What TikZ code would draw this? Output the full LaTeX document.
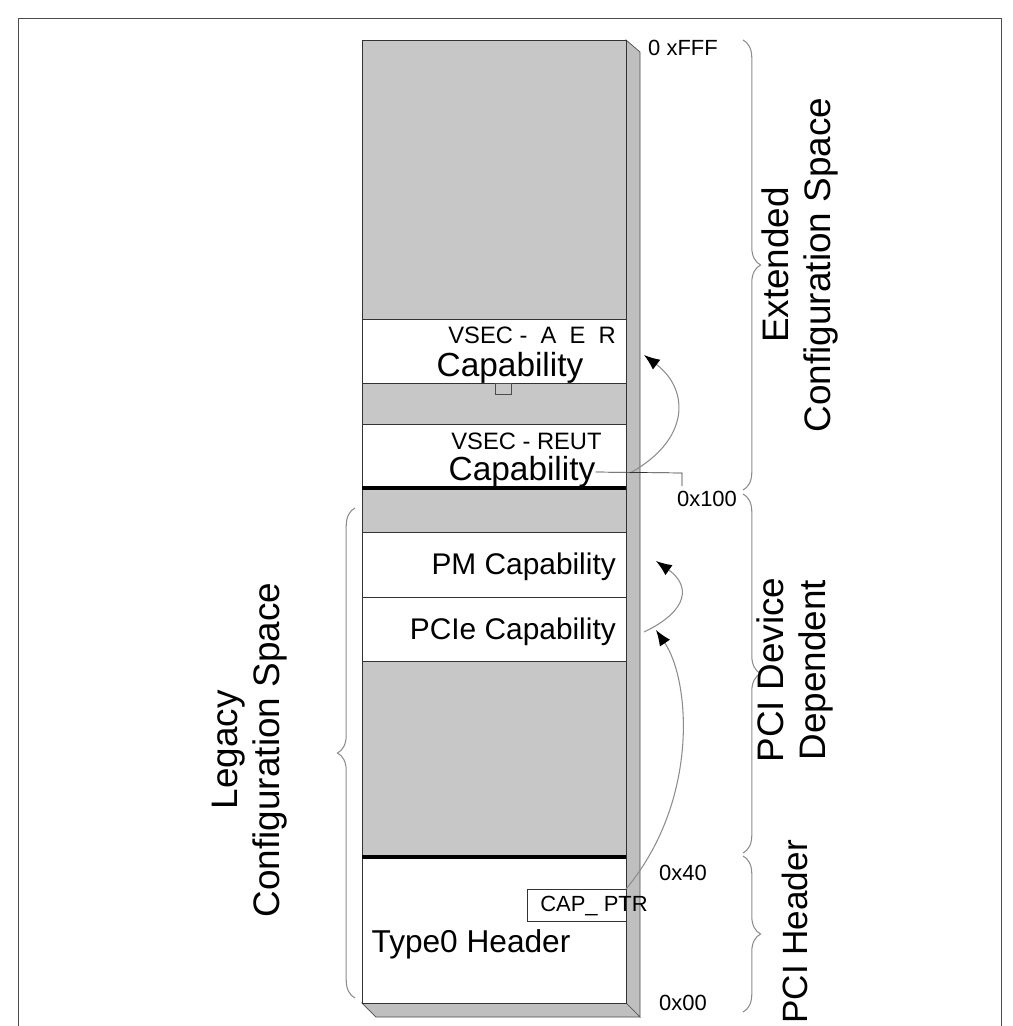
\documentclass[tikz,border=0pt]{standalone}
\usepackage{fontspec}
\setmainfont{Liberation Sans}
\usetikzlibrary{decorations.pathreplacing,arrows.meta}
\tikzset{
  region/.style={draw=black!80, fill=white, line width=0.5pt},
  brace/.style={draw=black!45, line width=0.6pt, decorate, decoration={brace, amplitude=10pt}},
  ptr/.style={draw=black!45, line width=0.6pt, -{Latex[length=9pt,width=7pt,black]}},
  addr/.style={font=\fontsize{12.5}{14}\selectfont, inner sep=1pt},
  side/.style={font=\fontsize{21}{24}\selectfont, align=center, rotate=90}
}
\begin{document}
\begin{tikzpicture}[x=0.02cm, y=-0.02cm]
\useasboundingbox (0,0) rectangle (1012,1026);
\draw[black!70] (18,18) rectangle (1001,1030);

% column with its depth
\fill[black!25, draw=black!70] (626,40) -- (640,52) -- (640,1017) -- (626,1003) -- cycle;
\fill[black!25, draw=black!70] (362,1003) -- (376,1017) -- (640,1017) -- (626,1003) -- cycle;
\fill[black!22, draw=black!80] (362,40) rectangle (626,1003);

% regions
\node[region, minimum width=264*0.02cm, minimum height=64*0.02cm, anchor=north west] (aer) at (362,319) {};
\node[font=\fontsize{13.5}{15}\selectfont, inner sep=0pt] at (448,335) [anchor=west] {VSEC -\ \ A\ \ E\ \ R};
\node[font=\fontsize{19}{22}\selectfont, inner sep=0pt] (aercap) at (510,368) {Capability};
\draw[black!70] (495,383) rectangle (511,394);
\node[region, minimum width=264*0.02cm, minimum height=64*0.02cm, anchor=north west] (reut) at (362,424) {};
\node[font=\fontsize{13.5}{15}\selectfont, inner sep=0pt] at (451,441) [anchor=west] {VSEC - REUT};
\node[font=\fontsize{19}{22}\selectfont, inner sep=0pt] (reutcap) at (522,472) {Capability};
\draw[line width=2.2pt] (362,488) -- (626,488);

\node[region, minimum width=264*0.02cm, minimum height=65*0.02cm, anchor=north west] (pm) at (362,532) {};
\node[font=\fontsize{17}{20}\selectfont, anchor=east] at (622,567) {PM Capability};
\node[region, minimum width=264*0.02cm, minimum height=64*0.02cm, anchor=north west] (pcie) at (362,597) {};
\node[font=\fontsize{17}{20}\selectfont, anchor=east] at (622,632) {PCIe Capability};

\node[region, minimum width=264*0.02cm, minimum height=146*0.02cm, anchor=north west] (hdr) at (362,857) {};
\draw[line width=2.2pt] (362,857) -- (626,857);
\node[font=\fontsize{18}{21}\selectfont] at (471,944) {Type0 Header};
\node[region, minimum width=99*0.02cm, minimum height=32*0.02cm, anchor=north west] (capptr) at (527,889) {};
\node[font=\fontsize{12.5}{14}\selectfont] at (594,906) {CAP\_ PTR};

% pointers
\coordinate (cpEnd) at (626,889);
\draw[ptr] (cpEnd) .. controls (700,800) and (690,680) .. (656,630);
\coordinate (pcEnd) at (644,632);
\draw[ptr] (pcEnd) .. controls (690,610) and (690,585) .. (656,561);
\coordinate (rtEnd) at (630,473);
\draw[ptr] (rtEnd) .. controls (690,440) and (690,390) .. (644,355);
\coordinate (rtKink) at (682,473);
\coordinate (rtFoot) at (682,486);
\draw[black!80] (reutcap.east) -- (rtKink) -- (rtFoot);

% braces and addresses
\draw[brace] (743,40) -- (743,490);
\draw[brace] (743,494) -- (743,853);
\draw[brace] (743,856) -- (743,1012);
\draw[brace] (355,998) -- (355,508);
\node[addr] at (683,48) {0 xFFF};
\node[addr] at (707,499) {0x100};
\node[addr] at (683,873) {0x40};
\node[addr] at (683,1003) {0x00};

\node[side] at (800,265) {Extended\\Configuration Space};
\node[side] at (795,670) {PCI Device\\Dependent};
\node[side, font=\fontsize{20}{24}\selectfont] at (795,932) {PCI Header};
\node[side] at (250,750) {Legacy\\Configuration Space};
\end{tikzpicture}
\end{document}
